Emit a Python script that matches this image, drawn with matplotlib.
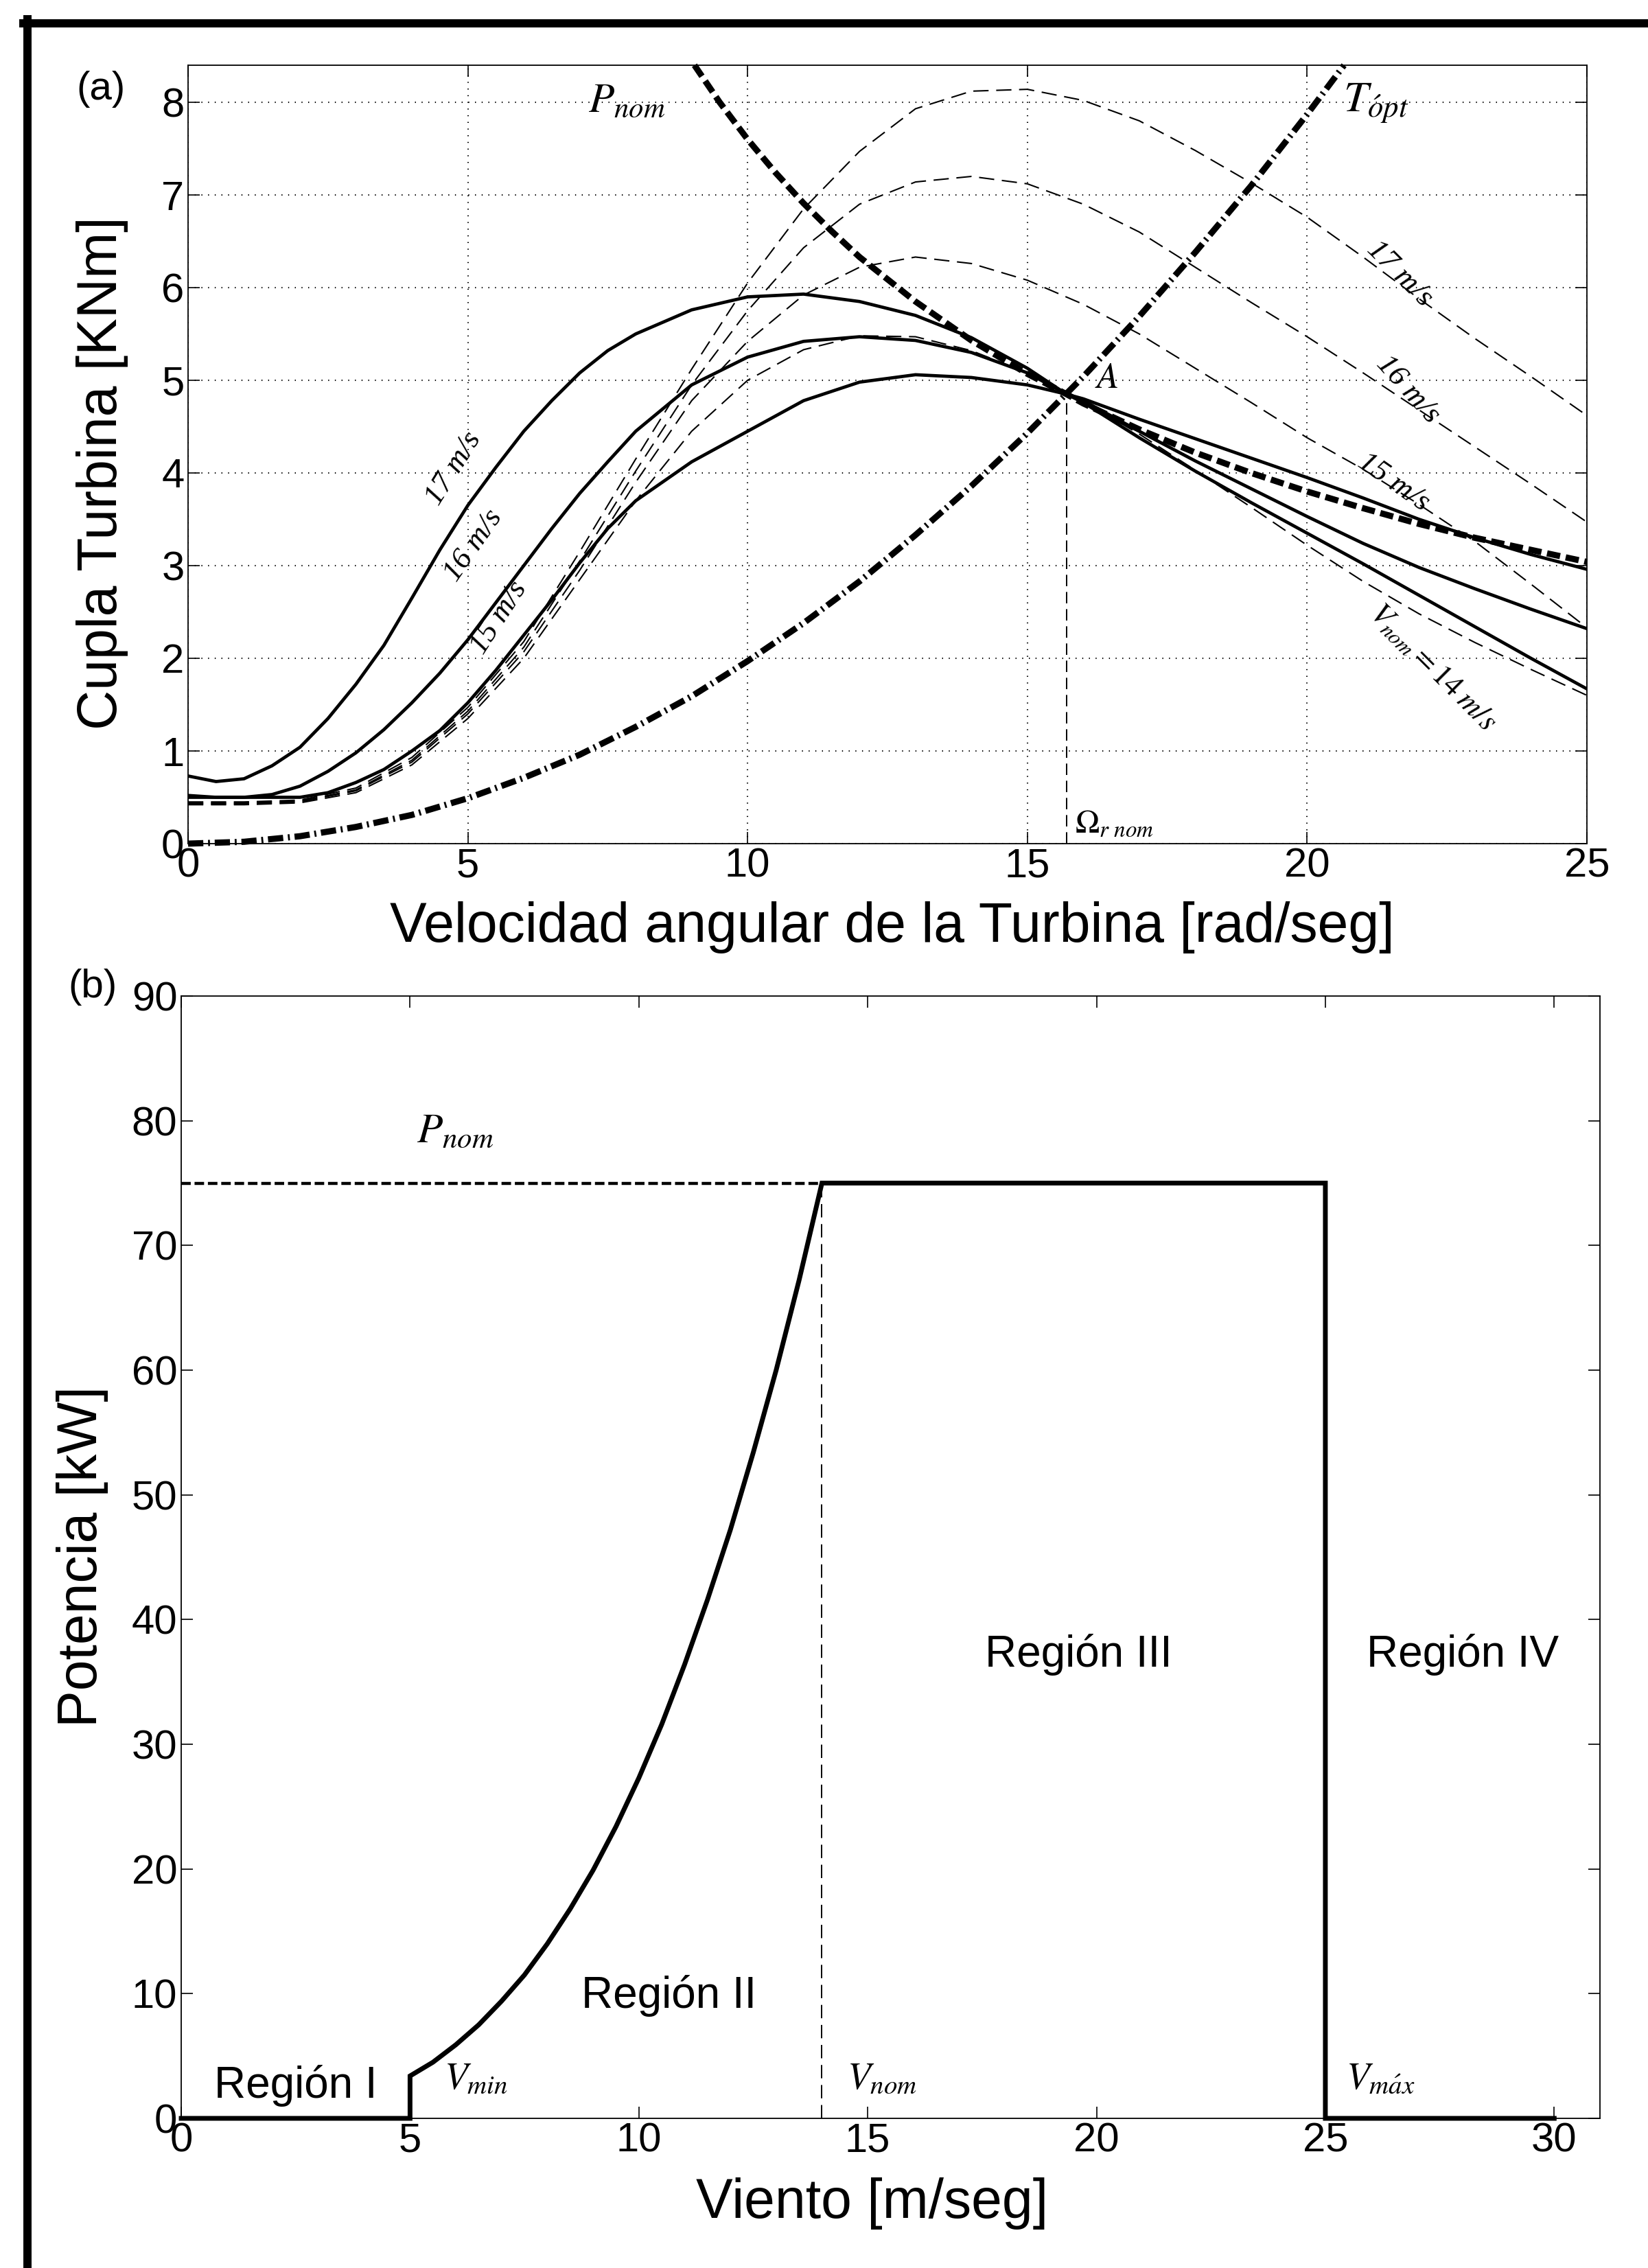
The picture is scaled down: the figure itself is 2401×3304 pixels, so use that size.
import matplotlib
matplotlib.use('Agg')
import matplotlib.pyplot as plt
from matplotlib.lines import Line2D

plt.rcParams['font.family'] = ['Liberation Sans', 'DejaVu Sans']
plt.rcParams['mathtext.fontset'] = 'stix'
plt.rcParams['lines.scale_dashes'] = False

W, H = 2401, 3304

# ---- panel (a): torque [kNm] vs rotor speed [rad/seg] ----
OMEGA = list(range(26))
T_DASH_14 = [0.42, 0.42, 0.44, 0.55, 0.85, 1.35, 2.0, 2.85, 3.7, 4.45, 5.0, 5.33, 5.48,
             5.47, 5.32, 5.08, 4.77, 4.42, 4.03, 3.63, 3.22, 2.83, 2.48, 2.17, 1.88, 1.6]
T_DASH_15 = [0.43, 0.43, 0.45, 0.57, 0.88, 1.4, 2.07, 2.95, 3.9, 4.78, 5.42, 5.92, 6.22,
             6.33, 6.26, 6.08, 5.82, 5.5, 5.13, 4.76, 4.38, 4.04, 3.66, 3.26, 2.8, 2.33]
T_DASH_16 = [0.44, 0.44, 0.46, 0.58, 0.9, 1.43, 2.12, 3.05, 4.02, 4.95, 5.75, 6.43, 6.9,
             7.14, 7.2, 7.12, 6.9, 6.6, 6.22, 5.84, 5.47, 5.08, 4.68, 4.28, 3.88, 3.47]
T_DASH_17 = [0.45, 0.45, 0.47, 0.6, 0.93, 1.47, 2.18, 3.15, 4.15, 5.12, 6.05, 6.85, 7.47,
             7.93, 8.12, 8.14, 8.02, 7.8, 7.48, 7.13, 6.76, 6.33, 5.88, 5.45, 5.04, 4.62]

OMEGA_LEFT = [0, 0.5, 1, 1.5, 2, 2.5, 3, 3.5, 4, 4.5, 5, 5.5, 6, 6.5, 7, 7.5, 8,
              9, 10, 11, 12, 13, 14, 15, 15.7]
T_SOLID_17 = [0.73, 0.67, 0.7, 0.84, 1.04, 1.35, 1.72, 2.14, 2.65, 3.17, 3.65, 4.06, 4.45,
              4.78, 5.08, 5.32, 5.5, 5.76, 5.9, 5.93, 5.85, 5.7, 5.46, 5.13, 4.85]
T_SOLID_16 = [0.5, 0.5, 0.5, 0.53, 0.62, 0.78, 0.98, 1.23, 1.52, 1.84, 2.2, 2.6, 3.0,
              3.4, 3.78, 4.12, 4.45, 4.95, 5.25, 5.42, 5.47, 5.43, 5.3, 5.08, 4.85]
T_SOLID_15 = [0.52, 0.5, 0.5, 0.5, 0.5, 0.55, 0.66, 0.8, 1.0, 1.22, 1.52, 1.87, 2.25,
              2.63, 3.03, 3.4, 3.7, 4.12, 4.45, 4.78, 4.98, 5.06, 5.03, 4.95, 4.85]

OMEGA_RIGHT = [15.7, 16, 17, 18, 19, 20, 21, 22, 23, 24, 25]
T_RIGHT_17 = [4.85, 4.76, 4.38, 4.02, 3.68, 3.35, 3.02, 2.68, 2.34, 2.0, 1.67]
T_RIGHT_16 = [4.85, 4.78, 4.45, 4.13, 3.83, 3.53, 3.24, 2.98, 2.75, 2.53, 2.32]
T_RIGHT_15 = [4.85, 4.8, 4.58, 4.37, 4.16, 3.95, 3.73, 3.5, 3.3, 3.12, 2.96]

OMEGA_PNOM = [9.05, 9.5, 10, 10.5, 11, 11.5, 12, 13, 14, 15, 15.7, 16, 17, 18, 19, 20,
              21, 22, 23, 24, 25]
T_PNOM = [8.4, 8.0, 7.6, 7.24, 6.91, 6.61, 6.33, 5.85, 5.43, 5.07, 4.85, 4.75, 4.47,
          4.22, 4.0, 3.8, 3.62, 3.45, 3.3, 3.17, 3.04]

OMEGA_TOPT = list(range(21)) + [20.66]
T_TOPT = [0, 0.02, 0.08, 0.18, 0.31, 0.49, 0.71, 0.96, 1.26, 1.59, 1.97, 2.38, 2.83,
          3.33, 3.86, 4.43, 5.04, 5.69, 6.38, 7.1, 7.87, 8.4]

OMEGA_NOM = 15.7
T_NOM = 4.85

# ---- panel (b): power [kW] vs wind [m/seg] ----
WIND_CURVE = [5, 5.5, 6, 6.5, 7, 7.5, 8, 8.5, 9, 9.5, 10, 10.5, 11, 11.5, 12, 12.5,
              13, 13.5, 14]
POWER_CURVE = [3.4, 4.5, 5.9, 7.5, 9.4, 11.5, 14.0, 16.8, 19.9, 23.4, 27.3, 31.6, 36.4,
               41.6, 47.2, 53.4, 60.0, 67.2, 75.0]
P_NOM = 75
V_MIN, V_NOM, V_MAX, V_END = 5, 14, 25, 30

serif_it = dict(family='Liberation Serif', style='italic', color='k')


def style_axes(ax, labelsize=43):
    ax.tick_params(direction='in', length=12, width=1.2, top=True, right=True,
                   labelsize=labelsize, pad=4)
    for s in ax.spines.values():
        s.set_linewidth(1.3)


fig = plt.figure(figsize=(W / 100, H / 100), dpi=100)

# ------------------------------------------------------------------ (a)
ax = fig.add_axes([274 / W, 1 - 1229 / H, (2312 - 274) / W, (1229 - 95) / H])
for t in (T_DASH_14, T_DASH_15, T_DASH_16, T_DASH_17):
    ax.plot(OMEGA, t, color='k', lw=1.5, dashes=(16, 8))
for left, right in ((T_SOLID_17, T_RIGHT_17), (T_SOLID_16, T_RIGHT_16),
                    (T_SOLID_15, T_RIGHT_15)):
    ax.plot(OMEGA_LEFT + OMEGA_RIGHT[1:], left + right[1:], color='k', lw=3.4)
ax.plot(OMEGA_PNOM, T_PNOM, color='k', lw=6.5, dashes=(14, 6), clip_on=False)
ax.plot(OMEGA_TOPT, T_TOPT, color='k', lw=6.5, dashes=(16, 5, 2, 5), clip_on=False)
ax.plot([OMEGA_NOM, OMEGA_NOM], [0, T_NOM], color='k', lw=1.4, dashes=(12, 6))

ax.set_xlim(0, 25)
ax.set_ylim(0, 8.4)
ax.set_xticks(range(0, 26, 5))
ax.set_yticks(range(0, 9))
ax.grid(True, color='k', linestyle=(0, (1, 6)), linewidth=1.5)
style_axes(ax)

ax.text(7.15, 7.9, r'$P_{nom}$', fontsize=44)
ax.text(20.65, 7.9, r'$T_{\acute{o}pt}$', fontsize=46)
ax.text(16.2, 4.92, r'$A$', fontsize=38)
ax.text(15.85, 0.12, r'$\Omega_{r\ nom}$', fontsize=34)
ax.text(4.75, 4.05, '17 m/s', fontsize=32, rotation=58, ha='center', va='center', **serif_it)
ax.text(5.1, 3.22, '16 m/s', fontsize=32, rotation=55, ha='center', va='center', **serif_it)
ax.text(5.55, 2.44, '15 m/s', fontsize=32, rotation=57, ha='center', va='center', **serif_it)
ax.text(21.65, 6.15, '17 m/s', fontsize=32, rotation=-45, ha='center', va='center', **serif_it)
ax.text(21.8, 4.9, '16 m/s', fontsize=32, rotation=-48, ha='center', va='center', **serif_it)
ax.text(21.55, 3.9, '15 m/s', fontsize=32, rotation=-35, ha='center', va='center', **serif_it)
ax.text(22.25, 1.9, r'$V_{nom}=14\;m/s$', fontsize=32, rotation=-45,
        ha='center', va='center')

fig.text(1300 / W, 1 - 1372 / H, 'Velocidad angular de la Turbina [rad/seg]',
         fontsize=58, ha='center', va='baseline')
fig.text(149 / W, 1 - 689 / H, 'Cupla Turbina [KNm]', fontsize=58, rotation=90,
         ha='center', va='center')
fig.text(147 / W, 1 - 130 / H, '(a)', fontsize=42, ha='center', va='center')

# ------------------------------------------------------------------ (b)
bx = fig.add_axes([264 / W, 1 - 3086 / H, (2331 - 264) / W, (3086 - 1451) / H])
wind = [0, V_MIN] + WIND_CURVE + [V_MAX, V_MAX, V_END]
power = [0, 0] + POWER_CURVE + [P_NOM, 0, 0]
bx.plot(wind, power, color='k', lw=5, clip_on=False, solid_joinstyle='miter')
bx.plot([0, V_NOM], [P_NOM, P_NOM], color='k', lw=3.2, dashes=(10, 4))
bx.plot([V_NOM, V_NOM], [0, P_NOM], color='k', lw=1.4, dashes=(14, 7))

bx.set_xlim(0, 31)
bx.set_ylim(0, 90)
bx.set_xticks(range(0, 31, 5))
bx.set_yticks(range(0, 91, 10))
style_axes(bx)

bx.text(5.15, 78.3, r'$P_{nom}$', fontsize=44)
bx.text(2.5, 2.6, 'Región I', fontsize=46, ha='center', va='center')
bx.text(10.65, 9.85, 'Región II', fontsize=46, ha='center', va='center')
bx.text(19.6, 37.2, 'Región III', fontsize=46, ha='center', va='center')
bx.text(28.0, 37.2, 'Región IV', fontsize=46, ha='center', va='center')
bx.text(5.75, 2.4, r'$V_{min}$', fontsize=40)
bx.text(14.55, 2.4, r'$V_{nom}$', fontsize=40)
bx.text(25.45, 2.4, r'$V_{m\acute{a}x}$', fontsize=40)

fig.text(1271 / W, 1 - 3231 / H, 'Viento [m/seg]', fontsize=58, ha='center', va='baseline')
fig.text(120 / W, 1 - 2268 / H, 'Potencia [kW]', fontsize=58, rotation=90,
         ha='center', va='center')
fig.text(135 / W, 1 - 1438 / H, '(b)', fontsize=42, ha='center', va='center')

# scanned page frame (top and left edges)
fig.add_artist(Line2D([34 / W, 1], [1 - 34 / H, 1 - 34 / H], color='k', lw=8.6))
fig.add_artist(Line2D([40 / W, 40 / W], [1 - 28 / H, 0], color='k', lw=8.6))

fig.savefig('out.png', dpi=100)
